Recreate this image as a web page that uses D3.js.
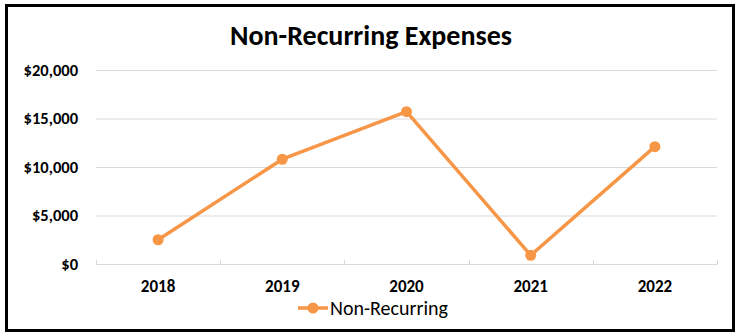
<!DOCTYPE html>
<html>
<head>
<meta charset="utf-8">
<script src="https://cdn.jsdelivr.net/npm/d3@7"></script>
<style>
  body { margin: 0; background: #fff; }
  text { font-family: Carlito, Calibri, Lato, "Liberation Sans", Arial, sans-serif; }
</style>
</head>
<body>
<div id="chart"></div>
<script>
var svgWidth = 739;
var svgHeight = 335;

// data
var years = ['2018', '2019', '2020', '2021', '2022'];
var expenses = [2500, 10800, 15700, 900, 12100];
var yTicks = [0, 5000, 10000, 15000, 20000];
var seriesName = 'Non-Recurring';

var orange = '#F79646';

var margin = { left: 96, top: 70, right: 22, bottom: 71 };
var width = svgWidth - margin.left - margin.right;
var height = svgHeight - margin.top - margin.bottom;

var svg = d3.select('#chart').append('svg')
    .attr('width', svgWidth)
    .attr('height', svgHeight);

// outer frame
svg.append('rect')
    .attr('x', 6.5)
    .attr('y', 5.5)
    .attr('width', 727)
    .attr('height', 325)
    .attr('fill', '#fff')
    .attr('stroke', '#000')
    .attr('stroke-width', 3);

svg.append('text')
    .attr('x', 371)
    .attr('y', 45)
    .attr('text-anchor', 'middle')
    .style('font-size', '28px')
    .style('font-weight', 'bold')
    .text('Non-Recurring Expenses');

var chartArea = svg.append('g')
    .attr('transform', `translate(${margin.left},${margin.top})`);

var xScale = d3.scaleBand()
    .domain(years)
    .range([0, width]);

var yScale = d3.scaleLinear()
    .domain([0, 20000])
    .range([height, 0]);

// gridlines
chartArea.selectAll('.grid')
    .data(yTicks.slice(1))
    .enter()
    .append('line')
    .attr('x1', 0)
    .attr('x2', width)
    .attr('y1', d => yScale(d) + 0.5)
    .attr('y2', d => yScale(d) + 0.5)
    .attr('stroke', '#d9d9d9')
    .attr('stroke-width', 1);

// y axis labels
var yAxisF = d3.axisLeft(yScale)
    .tickValues(yTicks)
    .tickSize(0)
    .tickPadding(18)
    .tickFormat(d => '$' + d3.format(',')(d));

var yAxis = chartArea.append('g').call(yAxisF);
yAxis.select('.domain').remove();
yAxis.selectAll('text')
    .style('font-size', '16.5px')
    .style('font-weight', 'bold')
    .attr('fill', '#000');

// x axis, ticks pointing up between categories
var xAxis = chartArea.append('g')
    .attr('transform', `translate(0,${height})`);

xAxis.append('line')
    .attr('x1', 0)
    .attr('x2', width)
    .attr('y1', 0.5)
    .attr('y2', 0.5)
    .attr('stroke', '#d9d9d9');

var bounds = [0].concat(years.map(d => xScale(d) + xScale.bandwidth()));
xAxis.selectAll('.xtick')
    .data(bounds)
    .enter()
    .append('line')
    .attr('x1', d => Math.round(d) + 0.5)
    .attr('x2', d => Math.round(d) + 0.5)
    .attr('y1', -4)
    .attr('y2', 0.5)
    .attr('stroke', '#d9d9d9');

xAxis.selectAll('.xlabel')
    .data(years)
    .enter()
    .append('text')
    .attr('x', d => xScale(d) + xScale.bandwidth() / 2)
    .attr('y', 28)
    .attr('text-anchor', 'middle')
    .style('font-size', '17px')
    .style('font-weight', 'bold')
    .text(d => d);

// line and markers
var line = d3.line()
    .x((d, i) => xScale(years[i]) + xScale.bandwidth() / 2)
    .y(d => yScale(d));

chartArea.append('path')
    .datum(expenses)
    .attr('d', line)
    .attr('fill', 'none')
    .attr('stroke', orange)
    .attr('stroke-width', 3.5)
    .attr('stroke-linejoin', 'round');

chartArea.selectAll('.dot')
    .data(expenses)
    .enter()
    .append('circle')
    .attr('cx', (d, i) => xScale(years[i]) + xScale.bandwidth() / 2)
    .attr('cy', d => yScale(d))
    .attr('r', 5.5)
    .attr('fill', orange);

// legend
var legend = svg.append('g')
    .attr('transform', 'translate(298,308)');

legend.append('line')
    .attr('x1', 0)
    .attr('x2', 30)
    .attr('stroke', orange)
    .attr('stroke-width', 3.5);

legend.append('circle')
    .attr('cx', 15)
    .attr('r', 5.5)
    .attr('fill', orange);

legend.append('text')
    .attr('x', 32)
    .attr('y', 7)
    .style('font-size', '20px')
    .text(seriesName);
</script>
</body>
</html>
